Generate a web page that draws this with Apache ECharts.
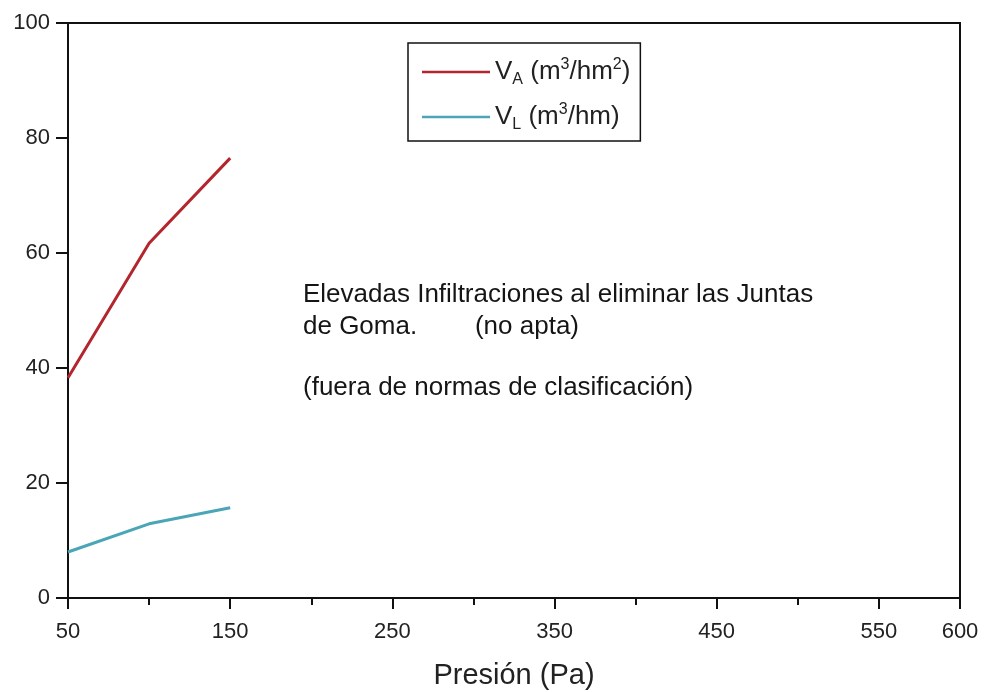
<!DOCTYPE html>
<html>
<head>
<meta charset="utf-8">
<script src="https://cdn.jsdelivr.net/npm/echarts@6/dist/echarts.min.js"></script>
<style>
html,body{margin:0;padding:0;background:#fff;}
#chart{width:985px;height:692px;}
</style>
</head>
<body>
<div id="chart"></div>
<script>
const presion = [50, 100, 150];
const vA = [38.3, 61.7, 76.5];
const vL = [8.0, 12.9, 15.7];
const xLabels = [50, 150, 250, 350, 450, 550, 600];
const seriesNames = ['VA', 'VL'];
const annotationLines = [
  'Elevadas Infiltraciones al eliminar las Juntas',
  'de Goma.        (no apta)',
  '(fuera de normas de clasificación)'
];

const FONT = 'Liberation Sans, Arial, sans-serif';
const chart = echarts.init(document.getElementById('chart'));

const pairs = (xs, ys) => xs.map((x, i) => [x, ys[i]]);

chart.setOption({
  animation: false,
  backgroundColor: '#fff',
  grid: { left: 68, right: 25, top: 23, bottom: 94, containLabel: false, outerBoundsMode: 'none',
    show: true, borderColor: '#111', borderWidth: 2, backgroundColor: 'transparent' },
  xAxis: {
    type: 'value', min: 50, max: 600, interval: 100,
    name: 'Presión (Pa)', nameLocation: 'middle', nameGap: 63,
    nameTextStyle: { fontFamily: FONT, fontSize: 29, color: '#222' },
    axisLine: { show: true, lineStyle: { color: '#111', width: 2 } },
    axisTick: { show: true, inside: false, length: 11, lineStyle: { color: '#111', width: 2 } },
    minorTick: { show: true, splitNumber: 2, length: 7, lineStyle: { color: '#111', width: 2 } },
    axisLabel: { fontFamily: FONT, fontSize: 22, color: '#222', margin: 23, showMaxLabel: true, showMinLabel: true,
      formatter: v => xLabels.includes(v) ? String(v) : '' },
    splitLine: { show: false }
  },
  yAxis: {
    type: 'value', min: 0, max: 100, interval: 20,
    axisLine: { show: true, lineStyle: { color: '#111', width: 2 } },
    axisTick: { show: true, inside: false, length: 12, lineStyle: { color: '#111', width: 2 } },
    axisLabel: { fontFamily: FONT, fontSize: 22, color: '#222', margin: 18 },
    splitLine: { show: false }
  },
  legend: {
    left: 408, top: 43, orient: 'vertical',
    data: seriesNames,
    backgroundColor: '#fff',
    borderColor: '#111', borderWidth: 1.5, borderRadius: 0,
    padding: [13, 10, 8, 14],
    itemGap: 13,
    itemWidth: 68, itemHeight: 14,
    icon: 'path://M0,6L68,6L68,8.5L0,8.5Z',
    textStyle: {
      fontFamily: FONT, fontSize: 26, color: '#222',
      rich: {
        t: { fontFamily: FONT, fontSize: 26, color: '#222', lineHeight: 30 },
        sub: { fontFamily: FONT, fontSize: 16, color: '#222', lineHeight: 30, padding: [16, 0, 0, 0] },
        sup: { fontFamily: FONT, fontSize: 16, color: '#222', lineHeight: 30, padding: [0, 0, 14, 0] }
      }
    },
    formatter: name => name === 'VA'
      ? '{t|V}{sub|A}{t| (m}{sup|3}{t|/hm}{sup|2}{t|)}'
      : '{t|V}{sub|L}{t| (m}{sup|3}{t|/hm)}'
  },
  graphic: annotationLines.map((txt, i) => ({
    type: 'text', left: 303, top: [282, 314, 375][i],
    style: { text: txt, font: '26px ' + FONT, fill: '#151515' }
  })),
  series: [
    { name: 'VA', type: 'line', data: pairs(presion, vA), showSymbol: false, symbol: 'none',
      lineStyle: { color: '#b3262e', width: 3 }, itemStyle: { color: '#b3262e' } },
    { name: 'VL', type: 'line', data: pairs(presion, vL), showSymbol: false, symbol: 'none',
      lineStyle: { color: '#4aa6b6', width: 3 }, itemStyle: { color: '#4aa6b6' } }
  ]
});
</script>
</body>
</html>
